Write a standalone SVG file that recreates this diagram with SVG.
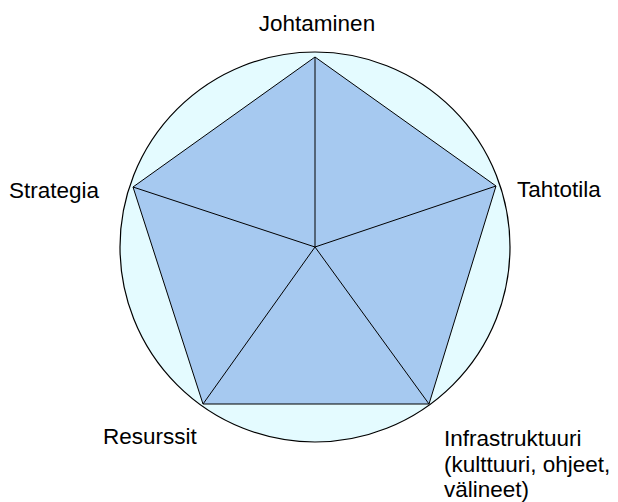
<svg xmlns="http://www.w3.org/2000/svg" width="618" height="502" viewBox="0 0 618 502">
<style>
text{font-family:"Liberation Sans",Arial,sans-serif;font-size:22.5px;fill:#000}
.ln{stroke:#000;stroke-width:1;fill:none}
</style>
<rect width="618" height="502" fill="#fff"/>
<g id="circle"><circle cx="315" cy="247" r="195" fill="#e4fbff" stroke="#000" stroke-width="1.2"/></g>
<g id="pentagon"><polygon points="315,57 496,186 429,404 203,404 133,187" fill="#a6c9f0" stroke="#000" stroke-width="1"/></g>
<g id="connectors">
<line class="ln" x1="315" y1="247" x2="315" y2="57"/>
<line class="ln" x1="315" y1="247" x2="496" y2="186"/>
<line class="ln" x1="315" y1="247" x2="429" y2="404"/>
<line class="ln" x1="315" y1="247" x2="203" y2="404"/>
<line class="ln" x1="315" y1="247" x2="133" y2="187"/>
</g>
<g id="n-johtaminen"><text x="317" y="31" text-anchor="middle">Johtaminen</text></g>
<g id="n-tahtotila"><text x="517" y="197">Tahtotila</text></g>
<g id="n-strategia"><text x="9" y="198">Strategia</text></g>
<g id="n-resurssit"><text x="103" y="444">Resurssit</text></g>
<g id="n-infra"><text x="444" y="446">Infrastruktuuri<tspan x="444" y="471.5">(kulttuuri, ohjeet,</tspan><tspan x="444" y="497">välineet)</tspan></text></g>
</svg>
